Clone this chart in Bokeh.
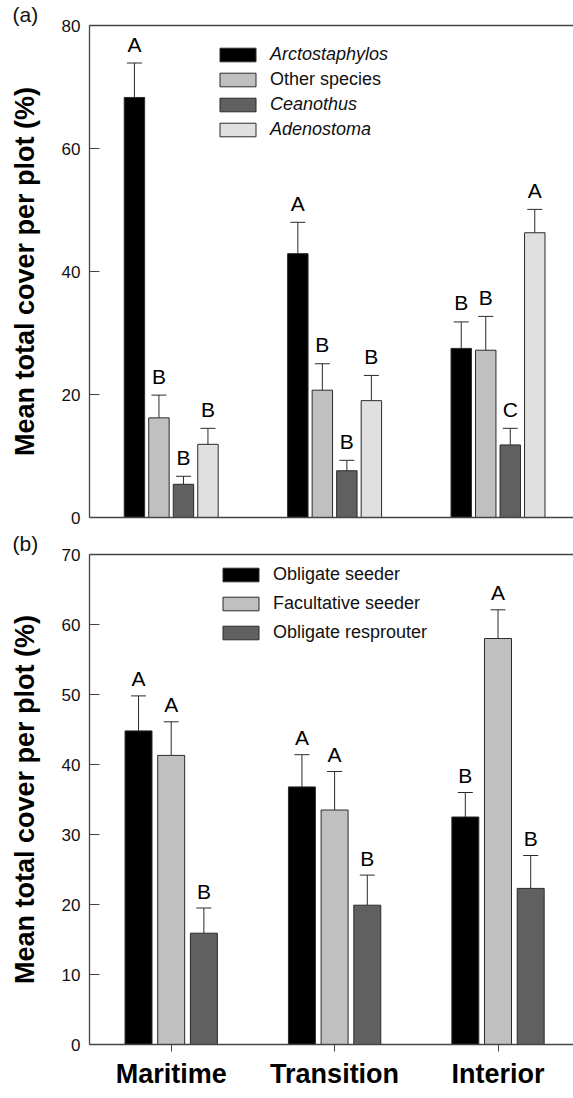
import numpy as np
from bokeh.plotting import figure
from bokeh.models import (Range1d, FixedTicker, Whisker, TeeHead, ColumnDataSource,
                          Legend, LegendItem, LinearAxis)
from bokeh.layouts import column
from bokeh.embed import file_html
from bokeh.resources import INLINE
from bokeh.core.properties import value

FONT = "Liberation Sans"

# ---------------- data ----------------
categories = ["Maritime", "Transition", "Interior"]

# panel (a): cover by taxon
a_names = ["Arctostaphylos", "Other species", "Ceanothus", "Adenostoma"]
a_italic = [True, False, True, True]
arcto = [68.3, 42.9, 27.5]
arcto_se = [5.6, 5.1, 4.3]
other = [16.2, 20.7, 27.2]
other_se = [3.7, 4.3, 5.5]
ceano = [5.4, 7.6, 11.8]
ceano_se = [1.3, 1.7, 2.7]
adeno = [11.9, 19.0, 46.3]
adeno_se = [2.6, 4.1, 3.8]
arcto_let = ["A", "A", "B"]
other_let = ["B", "B", "B"]
ceano_let = ["B", "B", "C"]
adeno_let = ["B", "B", "A"]

# panel (b): cover by regeneration strategy
b_names = ["Obligate seeder", "Facultative seeder", "Obligate resprouter"]
seeder = [44.8, 36.8, 32.5]
seeder_se = [5.0, 4.6, 3.5]
facult = [41.3, 33.5, 58.0]
facult_se = [4.8, 5.5, 4.1]
resprout = [15.9, 19.9, 22.3]
resprout_se = [3.6, 4.3, 4.7]
seeder_let = ["A", "A", "B"]
facult_let = ["A", "A", "A"]
resprout_let = ["B", "B", "B"]

a_colors = ["#000000", "#c0c0c0", "#606060", "#e0e0e0"]
b_colors = ["#000000", "#c0c0c0", "#606060"]
EDGE = "#2a2a2a"
AXC = "#444444"

xpos = np.arange(len(categories))


def make_fig(tag, ymax, yticks, frame_h, top, bottom):
    p = figure(frame_width=484, frame_height=frame_h,
               min_border_left=89, min_border_right=0,
               min_border_top=top, min_border_bottom=bottom,
               x_range=Range1d(-0.5, 2.462), y_range=Range1d(0, ymax),
               output_backend="svg", toolbar_location=None)
    p.outline_line_color = None
    p.grid.visible = False
    p.background_fill_color = "white"
    p.border_fill_color = "white"
    # panel tag "(a)" / "(b)" at the top-left corner
    p.title.text = tag
    p.title.align = "left"
    p.title.offset = -77
    p.title.standoff = 0
    p.title.text_font = FONT
    p.title.text_font_size = "21px"
    p.title.text_font_style = "normal"
    p.title.text_color = "#111111"
    ya = p.left[0]
    ya.ticker = FixedTicker(ticks=yticks)
    ya.major_tick_in = 10
    ya.major_tick_out = 0
    ya.minor_tick_in = 0
    ya.minor_tick_out = 0
    ya.axis_line_color = AXC
    ya.axis_line_width = 1.3
    ya.major_tick_line_color = AXC
    ya.major_label_text_font = FONT
    ya.major_label_text_font_size = "17px"
    ya.major_label_text_color = "#111111"
    ya.major_label_standoff = 9
    ya.axis_label = "Mean total cover per plot (%)"
    ya.axis_label_text_font = FONT
    ya.axis_label_text_font_style = "bold"
    ya.axis_label_text_font_size = "27px"
    ya.axis_label_text_color = "#000000"
    ya.axis_label_standoff = 19
    xa = p.below[0]
    xa.axis_line_color = AXC
    xa.axis_line_width = 1.3
    xa.minor_tick_in = 0
    xa.minor_tick_out = 0
    # top frame line
    top_ax = LinearAxis(ticker=FixedTicker(ticks=[]), axis_line_color=AXC,
                        axis_line_width=1.3, major_label_text_font_size="0px",
                        major_tick_in=0, major_tick_out=0,
                        minor_tick_in=0, minor_tick_out=0,
                        major_label_standoff=0)
    p.add_layout(top_ax, "above")
    return p, xa


def add_series(p, xs, vals, ses, lets, color, width, letter_pad):
    ups = [v + s for v, s in zip(vals, ses)]
    src = ColumnDataSource(dict(x=xs, top=vals, up=ups,
                                ly=[u + letter_pad for u in ups], let=lets))
    r = p.vbar(x="x", top="top", width=width, source=src,
               fill_color=color, line_color=EDGE, line_width=1)
    w = Whisker(base="x", lower="top", upper="up", source=src,
                dimension="height", line_color=EDGE, line_width=1,
                upper_head=TeeHead(size=15, line_color=EDGE, line_width=1),
                lower_head=None)
    p.add_layout(w)
    p.text(x="x", y="ly", text="let", source=src, text_align="center",
           text_baseline="alphabetic",
           text_font=value(FONT), text_font_size="21px", text_color="#000000")
    return r


# ---------------- panel (a) ----------------
pa, xa_a = make_fig("(a)", 80, [0, 20, 40, 60, 80], 492, 23, 12)
xa_a.ticker = FixedTicker(ticks=[])
xa_a.major_label_text_font_size = "0px"
xa_a.major_tick_out = 0
xa_a.major_tick_in = 0
xa_a.major_label_standoff = 0

a_vals = [arcto, other, ceano, adeno]
a_ses = [arcto_se, other_se, ceano_se, adeno_se]
a_lets = [arcto_let, other_let, ceano_let, adeno_let]
a_step = 0.15
a_offsets = (np.arange(4) - 1.5) * a_step
a_rends = []
for i in range(4):
    a_rends.append(add_series(pa, xpos + a_offsets[i], a_vals[i], a_ses[i],
                              a_lets[i], a_colors[i], 0.125, 19 / 6.15))

for i in range(4):
    lg = Legend(items=[LegendItem(label=a_names[i], renderers=[a_rends[i]])],
                location=(126, 452 - 25 * i), orientation="vertical",
                glyph_width=45, glyph_height=17, label_height=17,
                label_standoff=10, padding=0, margin=0, spacing=0,
                border_line_alpha=0, background_fill_alpha=0,
                label_text_font=FONT, label_text_font_size="18px",
                label_text_font_style="italic" if a_italic[i] else "normal",
                label_text_color="#111111")
    pa.add_layout(lg)

# ---------------- panel (b) ----------------
pb, xb = make_fig("(b)", 70, [0, 10, 20, 30, 40, 50, 60, 70], 490, 24, 46)
xb.ticker = FixedTicker(ticks=list(xpos))
xb.major_label_overrides = {int(i): c for i, c in zip(xpos, categories)}
xb.major_label_text_font = FONT
xb.major_label_text_font_style = "bold"
xb.major_label_text_font_size = "27px"
xb.major_label_text_color = "#000000"
xb.major_tick_out = 7
xb.major_tick_in = 0
xb.major_tick_line_color = AXC
xb.major_label_standoff = 7

b_vals = [seeder, facult, resprout]
b_ses = [seeder_se, facult_se, resprout_se]
b_lets = [seeder_let, facult_let, resprout_let]
b_step = 0.2
b_offsets = (np.arange(3) - 1) * b_step
b_rends = []
for i in range(3):
    b_rends.append(add_series(pb, xpos + b_offsets[i], b_vals[i], b_ses[i],
                              b_lets[i], b_colors[i], 0.165, 17 / 7.0))

lgb = Legend(items=[LegendItem(label=b_names[i], renderers=[b_rends[i]]) for i in range(3)],
             location=(129, 401), orientation="vertical",
             glyph_width=45, glyph_height=17, label_height=17,
             label_standoff=10, padding=0, margin=0, spacing=8,
             border_line_alpha=0, background_fill_alpha=0,
             label_text_font=FONT, label_text_font_size="18px",
             label_text_color="#111111")
pb.add_layout(lgb)

layout = column(pa, pb, spacing=0)
open("out.html", "w").write(file_html(layout, INLINE))
